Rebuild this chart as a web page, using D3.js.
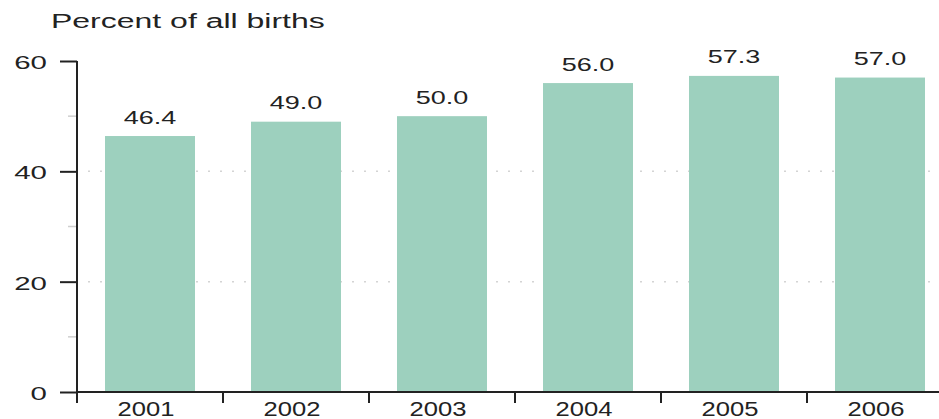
<!DOCTYPE html>
<html>
<head>
<meta charset="utf-8">
<script src="https://cdn.jsdelivr.net/npm/d3@7"></script>
<style>
  body { margin: 0; background: #fff; }
  text { font-family: "Liberation Sans", Arial, sans-serif; fill: #222; }
</style>
</head>
<body>
<div class="container"></div>
<script>
// 数据
const years = ["2001", "2002", "2003", "2004", "2005", "2006"];
const percents = [46.4, 49.0, 50.0, 56.0, 57.3, 57.0];
const majorTicks = [0, 20, 40, 60];
const minorTicks = [10, 30, 50];
const gridTicks = [20, 40];
const titleText = "Percent of all births";

const width = 939, height = 419;
const plotLeft = 77, plotTop = 61, plotBottom = 392;

const svg = d3.select(".container")
    .append("svg")
    .attr("width", width)
    .attr("height", height);

// 比例尺
const x = d3.scaleBand()
    .domain(years)
    .range([plotLeft, plotLeft + 6 * 146])
    .paddingInner(0.3836)
    .paddingOuter(0.1918);

const y = d3.scaleLinear()
    .domain([0, 60])
    .range([plotBottom, plotTop]);

// 网格线 (虚点)
svg.append("g")
    .selectAll("line")
    .data(gridTicks)
    .join("line")
    .attr("x1", plotLeft + 11)
    .attr("x2", width)
    .attr("y1", d => y(d))
    .attr("y2", d => y(d))
    .attr("stroke", "#d4d4d4")
    .attr("stroke-width", 1.5)
    .attr("stroke-dasharray", "2,10");

// 柱子
svg.append("g")
    .selectAll("rect")
    .data(percents)
    .join("rect")
    .attr("x", (d, i) => x(years[i]))
    .attr("y", d => y(d))
    .attr("width", x.bandwidth())
    .attr("height", d => plotBottom - y(d))
    .attr("fill", "#9dd0be");

// 数值标签
svg.append("g")
    .selectAll("text")
    .data(percents)
    .join("text")
    .attr("transform", (d, i) => `translate(${x(years[i]) + x.bandwidth() / 2},${y(d) - 12.5}) scale(1.42,1)`)
    .attr("text-anchor", "middle")
    .style("font-size", "19px")
    .text(d => d.toFixed(1));

// Y轴 (次刻度)
svg.append("g")
    .selectAll("line")
    .data(minorTicks)
    .join("line")
    .attr("x1", plotLeft - 9)
    .attr("x2", plotLeft)
    .attr("y1", d => y(d))
    .attr("y2", d => y(d))
    .attr("stroke", "#cfcfcf")
    .attr("stroke-width", 1.5);

// Y轴
const yAxis = svg.append("g")
    .attr("transform", `translate(${plotLeft},0)`)
    .call(d3.axisLeft(y).tickValues(majorTicks).tickSize(17).tickFormat(d3.format("d")));
yAxis.select(".domain").attr("d", `M0,${plotTop}V${plotBottom}`).attr("stroke", "#222").attr("stroke-width", 2);
yAxis.selectAll(".tick line").attr("stroke", "#222").attr("stroke-width", 2);
yAxis.selectAll(".tick text")
    .attr("x", null)
    .attr("dy", null)
    .attr("dominant-baseline", "central")
    .attr("transform", "translate(-30,1) scale(1.55,1)")
    .style("font-size", "19px")
    .attr("fill", "#222");

// X轴
svg.append("line")
    .attr("x1", plotLeft - 1)
    .attr("x2", width)
    .attr("y1", plotBottom)
    .attr("y2", plotBottom)
    .attr("stroke", "#222")
    .attr("stroke-width", 2);

const gap = (x.step() - x.bandwidth()) / 2;
svg.append("g")
    .selectAll("line")
    .data(years)
    .join("line")
    .attr("x1", d => x(d) - gap)
    .attr("x2", d => x(d) - gap)
    .attr("y1", plotBottom)
    .attr("y2", plotBottom + 11)
    .attr("stroke", "#222")
    .attr("stroke-width", 2);

svg.append("g")
    .selectAll("text")
    .data(years)
    .join("text")
    .attr("transform", d => `translate(${x(d) + x.bandwidth() / 2 - 4},${plotBottom + 24}) scale(1.28,1)`)
    .attr("text-anchor", "middle")
    .style("font-size", "20px")
    .text(d => d);

// 标题
svg.append("text")
    .attr("transform", "translate(51,28) scale(1.6,1)")
    .style("font-size", "20px")
    .text(titleText);
</script>
</body>
</html>
